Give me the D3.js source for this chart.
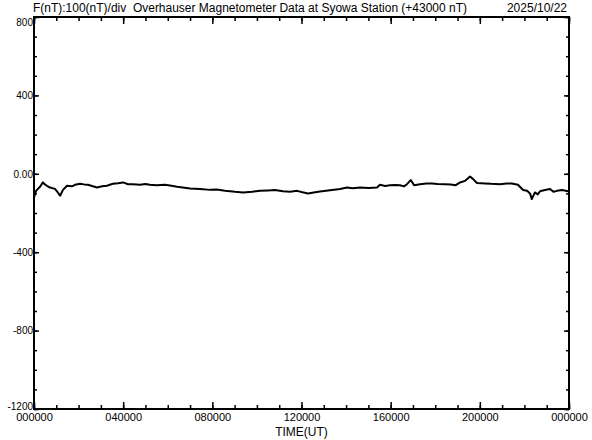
<!DOCTYPE html>
<html>
<head>
<meta charset="utf-8">
<script src="https://cdn.jsdelivr.net/npm/d3@7"></script>
<style>
  body { margin: 0; background: #fff; }
  text { font-family: "Liberation Sans", Arial, sans-serif; fill: #000; white-space: pre; }
</style>
</head>
<body>
<div id="chart"></div>
<script>
// hours since 00 UT and F - 43000 (nT)
const hours = [0, 0.09, 0.27, 0.40, 0.50, 0.58, 0.72, 0.94, 1.05, 1.17, 1.30, 1.48, 1.70, 1.84, 2.06, 2.25, 2.42, 2.60, 2.83, 3.05, 3.27, 3.54, 3.77, 3.99, 4.22, 4.44, 4.76, 5.0, 5.20, 5.5, 5.88, 6.1, 6.42, 7.00, 7.45, 7.90, 8.2, 8.57, 9.02, 9.38, 9.78, 10.14, 10.5, 10.81, 11.17, 11.49, 11.80, 12.05, 12.29, 12.55, 12.83, 13.28, 13.73, 14.04, 14.3, 14.63, 15.0, 15.39, 15.52, 15.75, 15.97, 16.2, 16.42, 16.60, 16.73, 16.90, 17.05, 17.32, 17.6, 17.86, 18.1, 18.44, 18.7, 18.92, 19.11, 19.34, 19.56, 19.69, 19.87, 20.23, 20.5, 20.91, 21.2, 21.43, 21.71, 21.94, 22.12, 22.25, 22.33, 22.47, 22.60, 22.70, 22.92, 23.15, 23.30, 23.46, 23.69, 23.85, 24.0];
const fValues = [-121, -87, -66, -44, -55, -61, -70, -77, -92, -112, -82, -61, -64, -56, -51, -54, -56, -62, -70, -64, -61, -51, -48, -44, -53, -53, -56, -52, -56, -58, -56, -60, -66, -75, -77, -82, -80, -87, -92, -95, -92, -87, -85, -83, -89, -92, -87, -94, -100, -95, -90, -84, -78, -70, -74, -70, -72, -70, -56, -62, -59, -57, -58, -64, -53, -32, -58, -53, -50, -49, -52, -53, -55, -58, -44, -36, -14, -26, -47, -49, -51, -53, -50, -49, -56, -83, -87, -100, -129, -95, -105, -89, -83, -78, -92, -87, -83, -86, -90];

const yTickValues = [800, 400, 0, -400, -800, -1200];
const yTickLabels = ["800", "400", "0.00", "-400", "-800", "-1200"];
const xTickValues = [0, 4, 8, 12, 16, 20, 24];
const xTickLabels = ["000000", "040000", "080000", "120000", "160000", "200000", "000000"];

const titleText = "F(nT):100(nT)/div  Overhauser Magnetometer Data at Syowa Station (+43000 nT)";
const dateText = "2025/10/22";
const xTitle = "TIME(UT)";

const W = 592, H = 440;
const margin = { top: 17, right: 23, bottom: 31, left: 34 };
const width = W - margin.left - margin.right,
      height = H - margin.top - margin.bottom;

const svg = d3.select("#chart").append("svg")
    .attr("width", W).attr("height", H);

const g = svg.append("g")
    .attr("transform", `translate(${margin.left},${margin.top})`);

const x = d3.scaleLinear().domain([0, 24]).range([0, width]);
const y = d3.scaleLinear().domain([-1200, 800]).range([height, 0]);

const minorX = d3.range(0, 25, 1);
const minorY = d3.range(-1200, 801, 100);

// minor ticks, all pointing inward
g.append("g").attr("transform", `translate(0,${height})`)
    .call(d3.axisBottom(x).tickValues(minorX).tickSize(-4).tickFormat(""));
g.append("g")
    .call(d3.axisTop(x).tickValues(minorX).tickSize(-4).tickFormat(""));
g.append("g")
    .call(d3.axisLeft(y).tickValues(minorY).tickSize(-3).tickFormat(""));
g.append("g").attr("transform", `translate(${width},0)`)
    .call(d3.axisRight(y).tickValues(minorY).tickSize(-3).tickFormat(""));

// major ticks
const xBottom = g.append("g").attr("transform", `translate(0,${height})`)
    .call(d3.axisBottom(x).tickValues(xTickValues).tickSize(-7).tickPadding(4)
      .tickFormat((d, i) => xTickLabels[i]));
g.append("g")
    .call(d3.axisTop(x).tickValues(xTickValues).tickSize(-7).tickFormat(""));
const yLeft = g.append("g")
    .call(d3.axisLeft(y).tickValues(yTickValues).tickSize(-5).tickPadding(1)
      .tickFormat((d, i) => yTickLabels[i]));
g.append("g").attr("transform", `translate(${width},0)`)
    .call(d3.axisRight(y).tickValues(yTickValues).tickSize(-5).tickFormat(""));

g.selectAll(".domain").remove();
g.selectAll(".tick line").attr("stroke", "#000").attr("stroke-width", 1.5);
xBottom.selectAll("text").attr("font-size", 11).attr("font-family", null);
yLeft.selectAll("text").attr("font-size", 10).attr("font-family", null)
    .attr("dy", (d) => d === 800 ? "0.85em" : d === -1200 ? "0" : "0.32em");

// frame
g.append("rect")
    .attr("width", width).attr("height", height)
    .attr("fill", "none").attr("stroke", "#000").attr("stroke-width", 2);

// data line
const line = d3.line().x((d, i) => x(hours[i])).y(d => y(d));
g.append("path")
    .datum(fValues)
    .attr("fill", "none")
    .attr("stroke", "#000")
    .attr("stroke-width", 2)
    .attr("stroke-linejoin", "round")
    .attr("d", line);

// titles
svg.append("text")
    .attr("x", 33).attr("y", 12)
    .attr("font-size", 12)
    .attr("xml:space", "preserve")
    .attr("textLength", 434).attr("lengthAdjust", "spacingAndGlyphs")
    .text(titleText);
svg.append("text")
    .attr("x", 567).attr("y", 12)
    .attr("text-anchor", "end")
    .attr("font-size", 12)
    .text(dateText);
svg.append("text")
    .attr("x", margin.left + width / 2).attr("y", 436)
    .attr("text-anchor", "middle")
    .attr("font-size", 12)
    .text(xTitle);
</script>
</body>
</html>
